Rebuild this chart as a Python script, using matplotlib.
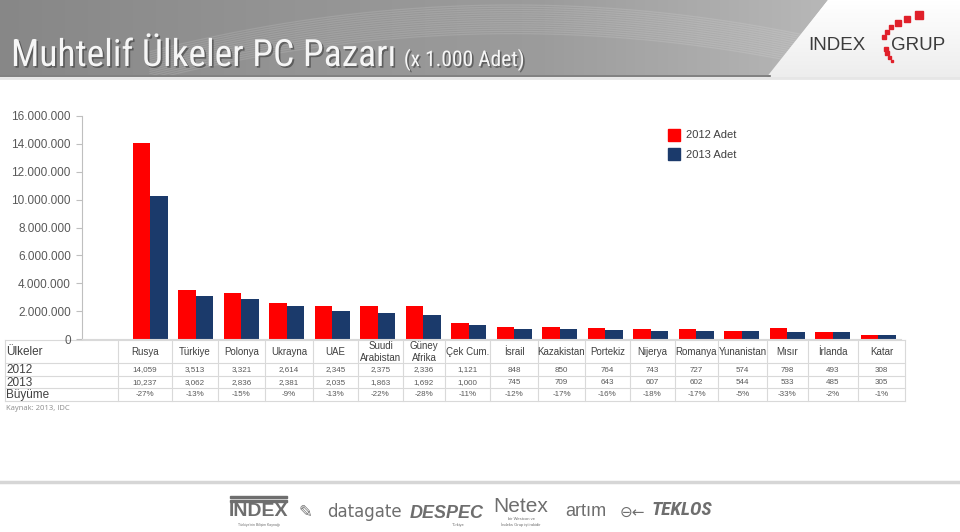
import matplotlib
matplotlib.use("Agg")
import matplotlib.pyplot as plt
import numpy as np
from matplotlib import font_manager
from matplotlib.patches import Rectangle, Polygon
import matplotlib.patheffects as pe

# ---------------- data ----------------
countries = ["Rusya", "Türkiye", "Polonya", "Ukrayna", "UAE", "Suudi\nArabistan",
             "Güney\nAfrika", "Çek Cum.", "İsrail", "Kazakistan", "Portekiz", "Nijerya",
             "Romanya", "Yunanistan", "Mısır", "İrlanda", "Katar"]
adet_2012 = [14059, 3513, 3321, 2614, 2345, 2375, 2336, 1121, 848, 850, 764, 743,
             727, 574, 798, 493, 308]
adet_2013 = [10237, 3062, 2836, 2381, 2035, 1863, 1692, 1000, 745, 709, 643, 607,
             602, 544, 533, 485, 305]
buyume = ["-27%", "-13%", "-15%", "-9%", "-13%", "-22%", "-28%", "-11%", "-12%", "-17%",
          "-16%", "-18%", "-17%", "-5%", "-33%", "-2%", "-1%"]
series_labels = ["2012 Adet", "2013 Adet"]
row_labels = ["Ülkeler", "2012", "2013", "Büyüme"]
yticks = np.arange(0, 16_000_001, 2_000_000)

# ---------------- fonts ----------------
avail = {f.name for f in font_manager.fontManager.ttflist}
def pick(*names):
    for n in names:
        if n in avail:
            return n
    return "DejaVu Sans"
SANS = pick("Liberation Sans", "Arial", "DejaVu Sans")
NARROW = pick("Liberation Sans Narrow", "Roboto Condensed", "Liberation Sans")
plt.rcParams["font.family"] = [SANS, "DejaVu Sans"]

W, H = 960, 532
fig = plt.figure(figsize=(W / 100, H / 100), dpi=100)
fig.patch.set_facecolor("white")

# background axes in pixel coordinates
bg = fig.add_axes([0, 0, 1, 1], zorder=0)
bg.axis("off")

# ---- header band ----
grad = np.linspace(0, 1, 256)
band_cols = np.interp(grad, [0, 0.35, 0.65, 1], [0.53, 0.58, 0.61, 0.72])
img = np.dstack([band_cols, band_cols, band_cols]).repeat(2, axis=0)
im = bg.imshow(img, extent=[0, 830, 75, 0], aspect="auto", zorder=1)
band_poly = Polygon([[0, 0], [828, 0], [770, 75], [0, 75]], closed=True,
                    facecolor="none", edgecolor="none")
bg.add_patch(band_poly)
im.set_clip_path(band_poly)
# right light area
rv = np.linspace(1.0, 0.93, 64)[:, None]
rimg = np.dstack([rv, rv, rv]).repeat(2, axis=1)
rim = bg.imshow(rimg, extent=[760, 960, 78, 0], aspect="auto", zorder=1)
rpoly = Polygon([[828, 0], [960, 0], [960, 78], [766, 78]], closed=True,
                facecolor="none", edgecolor="none")
bg.add_patch(rpoly)
rim.set_clip_path(rpoly)
# decorative curves in band
t = np.linspace(0, 1, 200)
for k in range(14):
    xs = 150 + t * 660
    ys = 5 + 70 * (t - 0.55) ** 2 * 2.2 + k * 2.2
    ln, = bg.plot(xs, ys, color="white", alpha=0.12, lw=0.9, zorder=2)
    ln.set_clip_path(band_poly)
bg.plot([0, 770], [75.5, 75.5], color="#6a6a6a", lw=1.2, zorder=2)
bg.plot([0, 960], [78, 78], color="#e6e6e6", lw=2, zorder=2)

bg.set_xlim(0, W)
bg.set_ylim(H, 0)

# title
shadow = [pe.withSimplePatchShadow(offset=(1.2, -1.2), shadow_rgbFace="#3a3a3a", alpha=0.6)]
t1 = bg.text(11, 66, "Muhtelif Ülkeler PC Pazarı", fontsize=27, color="#f6f6f6",
             family=[NARROW, SANS], va="baseline", ha="left", zorder=5, path_effects=shadow)
fig.canvas.draw()
ext = t1.get_window_extent(fig.canvas.get_renderer())
x_end = bg.transData.inverted().transform((ext.x1, ext.y0))[0]
bg.text(x_end + 8, 66, "(x 1.000 Adet)", fontsize=15.5, color="#f6f6f6",
        family=[NARROW, SANS], va="baseline", ha="left", zorder=5, path_effects=shadow)

# logo
bg.text(808, 46, "INDEX", fontsize=13.5, color="#3c3c3c", ha="left", va="center",
        family=SANS, zorder=5)
bg.text(891, 46, "GRUP", fontsize=13.5, color="#3c3c3c", ha="left", va="center",
        family=SANS, zorder=5)
sq = [(892, 61, 2.5), (889, 57, 3), (887, 53, 3.4), (886, 49, 3.6), (884, 37, 3.6),
      (887, 32, 4), (891, 27, 4.6), (898, 23, 5.4), (907, 19, 6.4), (919, 15, 7.6)]
for (cx, cy, s) in sq:
    bg.add_patch(Rectangle((cx - s / 2, cy - s / 2), s, s, color="#e0202a", zorder=5))

# ---------------- bar chart ----------------
ax_left, ax_right, ax_top, ax_bot = 82, 901, 116, 339
ax = fig.add_axes([ax_left / W, 1 - ax_bot / H, (ax_right - ax_left) / W, (ax_bot - ax_top) / H],
                  zorder=3)
ax.patch.set_alpha(0)
x = np.arange(1, len(countries) + 1)
bw = 0.39
v12 = np.array(adet_2012) * 1000
v13 = np.array(adet_2013) * 1000
ax.bar(x - bw / 2, v12, width=bw, color="#ff0000", label=series_labels[0])
ax.bar(x + bw / 2, v13, width=bw, color="#1b3a6b", label=series_labels[1])
ax.set_xlim(-0.5, len(countries) + 0.5)
ax.set_ylim(0, 16_000_000)
ax.set_yticks(yticks)
ax.set_yticklabels([f"{v:,}".replace(",", ".") for v in yticks], fontsize=8.5, color="#595959")
ax.set_xticks([])
for s in ["top", "right"]:
    ax.spines[s].set_visible(False)
ax.spines["left"].set_color("#bfbfbf")
ax.spines["bottom"].set_color("#d9d9d9")
ax.tick_params(axis="y", length=4, color="#bfbfbf", pad=4)

# legend (manual, pixel coords)
leg_cols = ["#ff0000", "#1b3a6b"]
for i, (lab, c) in enumerate(zip(series_labels, leg_cols)):
    yy = 129 + i * 19
    bg.add_patch(Rectangle((668, yy), 12, 12, color=c, zorder=5))
    bg.text(686, yy + 6.5, lab, fontsize=8, color="#404040", va="center", ha="left", zorder=5)

# ---------------- table ----------------
col_edges = [5, 118, 172, 218, 265, 313, 358, 403, 445, 490, 538, 585, 630, 675,
             718, 767, 808, 858, 905]
row_edges = [340, 363, 376, 388, 401]
tcol = "#d9d9d9"
for yv in row_edges:
    bg.plot([col_edges[0], col_edges[-1]], [yv, yv], color=tcol, lw=0.8, zorder=4)
for xv in col_edges:
    bg.plot([xv, xv], [row_edges[0], row_edges[-1]], color=tcol, lw=0.8, zorder=4)

for r, lab in enumerate(row_labels):
    ymid = (row_edges[r] + row_edges[r + 1]) / 2
    bg.text(6, ymid + 0.5, lab, fontsize=8.5, color="#404040",
            ha="left", va="center", zorder=5)

rows = [countries,
        [f"{v:,}" for v in adet_2012],
        [f"{v:,}" for v in adet_2013],
        buyume]
for r, vals in enumerate(rows):
    ymid = (row_edges[r] + row_edges[r + 1]) / 2
    for j, txt in enumerate(vals):
        xc = (col_edges[j + 1] + col_edges[j + 2]) / 2
        if r == 0:
            bg.text(xc, ymid + 0.5, txt, fontsize=7, color="#404040", ha="center",
                    va="center", linespacing=1.15, zorder=5)
        else:
            bg.text(xc, ymid + 0.5, txt, fontsize=5.8, color="#595959", ha="center",
                    va="center", zorder=5)

bg.text(6, 408, "Kaynak: 2013, IDC", fontsize=5.5, color="#8c8c8c", ha="left",
        va="center", family=pick("Open Sans", SANS), zorder=5)

# ---------------- footer ----------------
bg.plot([0, 960], [482, 482], color="#d6d6d6", lw=2.5, zorder=2)
fc = "#6e6e6e"
bg.add_patch(Rectangle((230, 496), 57, 2, color=fc, zorder=5))
bg.add_patch(Rectangle((230, 500), 57, 2, color=fc, zorder=5))
bg.text(258.5, 512, "INDEX", fontsize=14, weight="bold", color=fc, ha="center",
        va="center", family=SANS, zorder=5)
bg.text(258.5, 525, "Türkiye'nin Bilişim Kaynağı", fontsize=2.5, color=fc,
        ha="center", va="center", zorder=5)
bg.text(305, 512, "✎", fontsize=12, color=fc, ha="center", va="center",
        family="DejaVu Sans", zorder=5)
bg.text(327, 512, "datagate", fontsize=12, color=fc, ha="left", va="center",
        family="DejaVu Sans", zorder=5)
bg.text(410, 513, "DESPEC", fontsize=13, weight="bold", style="italic", color=fc,
        ha="left", va="center", zorder=5)
bg.text(452, 525, "Türkiye", fontsize=2.8, color=fc, ha="left", va="center", zorder=5)
bg.text(521, 506, "Netex", fontsize=15, color=fc, ha="center", va="center", zorder=5)
bg.text(521, 522, "bir Westcon ve\nİndeks Grup iştirakidir", fontsize=3, color=fc,
        ha="center", va="center", zorder=5)
bg.text(565, 512, "artım", fontsize=13, color=fc, ha="left", va="center", zorder=5)
bg.text(620, 512, "⊖←", fontsize=11, color=fc, ha="left", va="center",
        family="DejaVu Sans", zorder=5)
bg.text(652, 510, "TEKLOS", fontsize=14, weight="bold", style="italic", color=fc,
        ha="left", va="center", family=[NARROW, SANS], zorder=5)

bg.set_xlim(0, W)
bg.set_ylim(H, 0)

fig.savefig("out.png", dpi=100)
